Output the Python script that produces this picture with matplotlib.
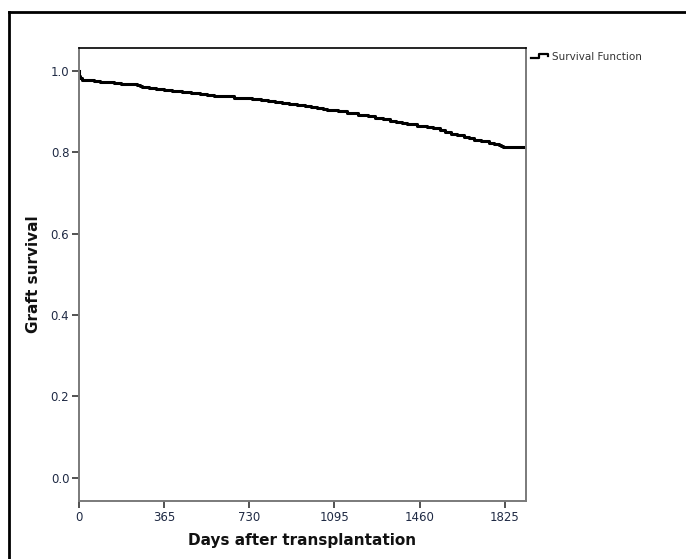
import matplotlib
matplotlib.use("Agg")
import matplotlib.pyplot as plt
from matplotlib.lines import Line2D
from matplotlib.legend_handler import HandlerBase

# Kaplan-Meier estimate (days, survival)
days = [0, 2, 5, 12, 25, 40, 65, 90, 110, 124, 150, 180, 215, 249, 262, 270,
        300, 330, 365, 400, 420, 442, 480, 520, 550, 580, 605, 627, 665, 700,
        740, 780, 810, 842, 870, 900, 935, 970, 995, 1020, 1045, 1065, 1110,
        1150, 1195, 1237, 1270, 1305, 1335, 1360, 1385, 1408, 1450, 1494,
        1520, 1550, 1570, 1593, 1620, 1650, 1672, 1692, 1725, 1760, 1780,
        1800, 1810, 1820, 1915]
surv = [1.0, 0.988, 0.982, 0.979, 0.978, 0.977, 0.975, 0.974, 0.973, 0.972,
        0.971, 0.969, 0.968, 0.966, 0.963, 0.960, 0.958, 0.955, 0.953, 0.951,
        0.950, 0.949, 0.946, 0.944, 0.942, 0.940, 0.939, 0.938, 0.935, 0.933,
        0.931, 0.928, 0.926, 0.924, 0.922, 0.919, 0.916, 0.913, 0.911, 0.909,
        0.907, 0.905, 0.901, 0.897, 0.893, 0.889, 0.885, 0.881, 0.878, 0.875,
        0.872, 0.870, 0.866, 0.862, 0.859, 0.855, 0.850, 0.846, 0.843, 0.839,
        0.835, 0.831, 0.827, 0.824, 0.821, 0.818, 0.816, 0.814, 0.814]

xticks = [0, 365, 730, 1095, 1460, 1825]
yticks = [0.0, 0.2, 0.4, 0.6, 0.8, 1.0]

tick_col = "#1f2a44"
spine_col = "#7a7a7a"


class StepHandler(HandlerBase):
    def create_artists(self, legend, orig, xd, yd, w, h, fontsize, trans):
        lo = h * 0.2
        hi = h * 0.75
        xs = [0, 0.4 * w, 0.4 * w, 0.9 * w, 0.9 * w]
        ys = [lo, lo, hi, hi, 0.45 * h]
        ln = Line2D([x - xd for x in xs], [y - yd for y in ys],
                    color="black", lw=1.6, transform=trans)
        return [ln]


fig = plt.figure(figsize=(6.86, 5.59), dpi=100)
ax = fig.add_axes([0.1152, 0.1038, 0.651, 0.8112])

line, = ax.plot(days, surv, drawstyle="steps-post", color="black", lw=2.2,
                solid_joinstyle="round")

ax.set_xlim(0, 1915)
ax.set_ylim(-0.057, 1.058)
ax.set_xticks(xticks)
ax.set_xticklabels([str(t) for t in xticks])
ax.set_yticks(yticks)
ax.set_yticklabels(["%.1f" % t for t in yticks])

ax.tick_params(direction="out", length=5, width=1.2, color="#333333",
               labelsize=8.5, labelcolor=tick_col, pad=2)

for side in ["left", "bottom", "right"]:
    ax.spines[side].set_color(spine_col)
    ax.spines[side].set_linewidth(1.4)
ax.spines["top"].set_color("black")
ax.spines["top"].set_linewidth(1.2)

ax.set_xlabel("Days after transplantation", fontsize=11, fontweight="bold",
              color="#111111", labelpad=7)
ax.set_ylabel("Graft survival", fontsize=11, fontweight="bold",
              color="#111111", labelpad=7)

ax.legend([line], ["Survival Function"], handler_map={line: StepHandler()},
          loc="upper left", bbox_to_anchor=(1.002, 1.0), frameon=False,
          fontsize=7.5, handlelength=1.9, handletextpad=0.15,
          borderaxespad=0.0, labelcolor="#333333")

# outer frame (left and top edges only are visible)
fig.add_artist(Line2D([0.0131, 0.0131], [0.0, 0.979], color="black", lw=2.0,
                      transform=fig.transFigure))
fig.add_artist(Line2D([0.0131, 1.0], [0.979, 0.979], color="black", lw=2.0,
                      transform=fig.transFigure))

fig.savefig("out.png", dpi=100)
